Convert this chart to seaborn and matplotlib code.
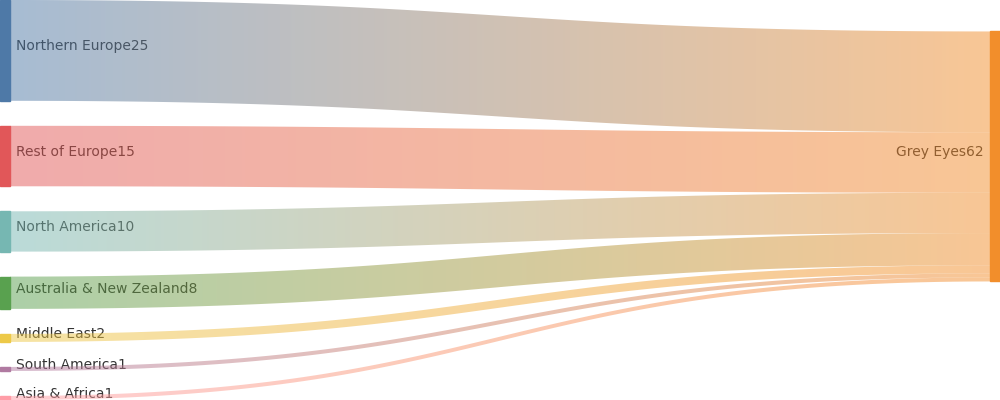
import numpy as np
import matplotlib
matplotlib.use("Agg")
import matplotlib.pyplot as plt
import seaborn as sns
from matplotlib.path import Path
from matplotlib.patches import PathPatch
from matplotlib.colors import to_rgb

sources = ["Northern Europe", "Rest of Europe", "North America",
           "Australia & New Zealand", "Middle East", "South America", "Asia & Africa"]
values = [25, 15, 10, 8, 2, 1, 1]
target = "Grey Eyes"

source_colors = ["#4e79a7", "#e15759", "#76b7b2", "#59a14f", "#edc948", "#b07aa1", "#ff9da7"]
target_color = "#f28e2b"

W, H = 1000, 400
NODE_W = 10
PAD = 25

sns.set_theme(style="white")
plt.rcParams["font.family"] = ["DejaVu Sans"]

fig = plt.figure(figsize=(10, 4), dpi=100)
ax = fig.add_axes([0, 0, 1, 1])
ax.set_xlim(0, W)
ax.set_ylim(H, 0)
ax.axis("off")

total = sum(values)
ky = (H - PAD * (len(values) - 1)) / total

# left node positions
y_src = []
y = 0
for v in values:
    y_src.append((y, y + v * ky))
    y += v * ky + PAD

# right node centred on the weighted mean of its sources
centre = sum(v * (a + b) / 2 for v, (a, b) in zip(values, y_src)) / total
t_top = centre - total * ky / 2
t_bot = t_top + total * ky


def bezier(x0, y0, x1, y1, n=80):
    t = np.linspace(0, 1, n)
    xm = (x0 + x1) / 2
    x = (1 - t) ** 3 * x0 + 3 * (1 - t) ** 2 * t * xm + 3 * (1 - t) * t ** 2 * xm + t ** 3 * x1
    yy = (1 - t) ** 3 * y0 + 3 * (1 - t) ** 2 * t * y0 + 3 * (1 - t) * t ** 2 * y1 + t ** 3 * y1
    return x, yy


# links (drawn over the labels, half transparent)
x0, x1 = NODE_W, W - NODE_W
ty = t_top
for v, (a, b), col in zip(values, y_src, source_colors):
    h = v * ky
    xt, yt = bezier(x0, a, x1, ty)
    xb, yb = bezier(x0, b, x1, ty + h)
    verts = np.vstack([np.column_stack([xt, yt]), np.column_stack([xb[::-1], yb[::-1]]), [[xt[0], yt[0]]]])
    codes = [Path.MOVETO] + [Path.LINETO] * (len(verts) - 2) + [Path.CLOSEPOLY]
    patch = PathPatch(Path(verts, codes), facecolor="none", edgecolor="none")
    ax.add_patch(patch)
    c0, c1 = np.array(to_rgb(col)), np.array(to_rgb(target_color))
    s = np.linspace(0, 1, 256)[:, None]
    grad = (c0 * (1 - s) + c1 * s)
    img = np.concatenate([grad, np.full((256, 1), 0.5)], axis=1)[None, :, :]
    im = ax.imshow(img, extent=(x0, x1, H, 0), aspect="auto", interpolation="bilinear", zorder=2)
    im.set_clip_path(patch)
    ty += h

# nodes and labels
for name, v, (a, b), col in zip(sources, values, y_src, source_colors):
    ax.add_patch(plt.Rectangle((0, a), NODE_W, b - a, color=col, zorder=3))
    ax.text(NODE_W + 6, (a + b) / 2 - 4, f"{name}{v}", ha="left", va="center",
            fontsize=10, color="#333333", zorder=1)

ax.add_patch(plt.Rectangle((W - NODE_W, t_top), NODE_W, t_bot - t_top, color=target_color, zorder=3))
ax.text(W - NODE_W - 6, (t_top + t_bot) / 2 - 4, f"{target}{total}", ha="right", va="center",
        fontsize=10, color="#333333", zorder=1)

fig.savefig("out.png", dpi=100)
